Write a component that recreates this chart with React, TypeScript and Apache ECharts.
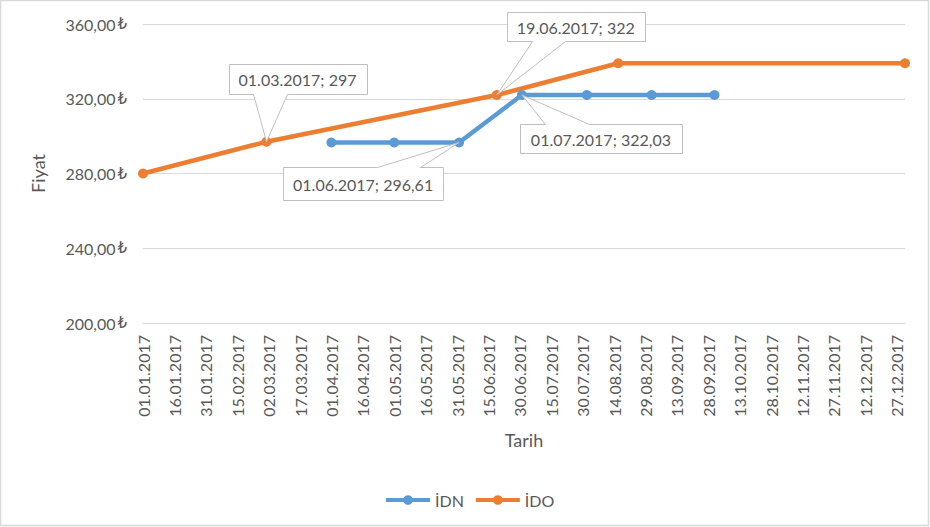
import React, { useEffect, useRef } from "react";
import * as echarts from "echarts";

// ---- data ----
const idnDates = ["01.04.2017", "01.05.2017", "01.06.2017", "01.07.2017", "01.08.2017", "01.09.2017", "01.10.2017"];
const idnValues = [296.61, 296.61, 296.61, 322.03, 322.03, 322.03, 322.03];
const idoDates = ["01.01.2017", "01.03.2017", "19.06.2017", "16.08.2017", "31.12.2017"];
const idoValues = [280, 297, 322, 339, 339];
const axisStart = "01.01.2017";
const axisEnd = "31.12.2017";
const tickDays = 15;
const yTicks = [200, 240, 280, 320, 360];
const seriesNames = ["İDN", "İDO"];

// callouts: which series / index is annotated
const callouts = [
  { series: 1, index: 1, box: [-38, 100, -78, -48], base: [-14, 20], side: "bottom" },
  { series: 0, index: 2, box: [-176, -16, 25, 58], base: [-82, -39], side: "top" },
  { series: 1, index: 2, box: [10, 148, -83, -54], base: [35, 68], side: "bottom" },
  { series: 0, index: 3, box: [-2, 160, 29, 58], base: [23, 67], side: "top" },
];

const BASE = Date.UTC(2017, 0, 1);
const DAY = 86400000;
function toDay(s: string) {
  const [d, m, y] = s.split(".").map(Number);
  return Math.round((Date.UTC(y, m - 1, d) - BASE) / DAY);
}
function pad(n: number) {
  return n < 10 ? "0" + n : "" + n;
}
function fromDay(n: number) {
  const dt = new Date(BASE + n * DAY);
  return pad(dt.getUTCDate()) + "." + pad(dt.getUTCMonth() + 1) + "." + dt.getUTCFullYear();
}
function fmtVal(v: number) {
  return String(v).replace(".", ",");
}

const FONT = "Lato, 'DejaVu Sans', sans-serif";
const TXT = "#595959";
const GRID = "#d9d9d9";
const BLUE = "#5B9BD5";
const ORANGE = "#ED7D31";

export default function App() {
  const ref = useRef<HTMLDivElement>(null);
  useEffect(() => {
    if (!ref.current) return;
    const chart = echarts.init(ref.current, null, { renderer: "svg" });
    const allDates = [idnDates, idoDates];
    const allValues = [idnValues, idoValues];
    const colors = [BLUE, ORANGE];
    chart.setOption({
      animation: false,
      textStyle: { fontFamily: FONT },
      grid: { left: 143, right: 25, top: 24, bottom: 204, containLabel: false },
      legend: {
        top: 487,
        left: 379,
        itemWidth: 44,
        itemHeight: 12,
        itemGap: 10,
        lineStyle: { width: 4 },
        textStyle: { color: TXT, fontSize: 16, fontFamily: FONT },
        data: seriesNames,
      },
      xAxis: {
        type: "value",
        min: toDay(axisStart),
        max: toDay(axisEnd),
        interval: tickDays,
        name: "Tarih",
        nameLocation: "middle",
        nameGap: 108,
        nameTextStyle: { color: TXT, fontSize: 18, fontFamily: FONT },
        axisLine: { show: true, lineStyle: { color: GRID, width: 1 } },
        axisTick: { show: false },
        splitLine: { show: false },
        axisLabel: {
          rotate: 90,
          margin: 12,
          color: TXT,
          fontSize: 16,
          fontFamily: FONT,
          showMaxLabel: false,
          formatter: (v: number) => fromDay(v),
        },
      },
      yAxis: {
        type: "value",
        min: yTicks[0],
        max: yTicks[yTicks.length - 1],
        interval: yTicks[1] - yTicks[0],
        name: "Fiyat",
        nameLocation: "middle",
        nameRotate: 90,
        nameGap: 96,
        nameTextStyle: { color: TXT, fontSize: 18, fontFamily: FONT },
        axisLine: { show: false },
        axisTick: { show: false },
        splitLine: { show: true, lineStyle: { color: GRID, width: 1 } },
        axisLabel: {
          margin: 16,
          color: TXT,
          fontSize: 16,
          fontFamily: FONT,
          formatter: (v: number) => v.toFixed(2).replace(".", ",") + "{c|₺}",
          rich: {
            c: { fontFamily: "'DejaVu Sans', sans-serif", fontSize: 15, color: TXT, padding: [0, 0, 0, 2] },
          },
        },
      },
      series: seriesNames.map((name, si) => ({
        name,
        type: "line",
        silent: true,
        symbol: "circle",
        symbolSize: 10,
        showSymbol: true,
        color: colors[si],
        itemStyle: { color: colors[si], borderWidth: 0 },
        lineStyle: { color: colors[si], width: 4.5 },
        emphasis: { disabled: true },
        data: allDates[si].map((d, i) => [toDay(d), allValues[si][i]]),
      })),
    });

    const graphics: any[] = [
      {
        type: "rect",
        shape: { x: 0.5, y: 0.5, width: 928, height: 525 },
        style: { fill: "none", stroke: GRID, lineWidth: 1.5 },
        silent: true,
      },
    ];
    callouts.forEach((c) => {
      const d = allDates[c.series][c.index];
      const v = allValues[c.series][c.index];
      const p = chart.convertToPixel({ xAxisIndex: 0, yAxisIndex: 0 }, [toDay(d), v]) as number[];
      const px = p[0];
      const py = p[1];
      const [l, r, t, b] = c.box;
      const [b1, b2] = c.base;
      const X = (o: number) => Math.round(px + o) + 0.5;
      const Y = (o: number) => Math.round(py + o) + 0.5;
      let pts: number[][];
      if (c.side === "bottom") {
        pts = [
          [X(l), Y(t)], [X(r), Y(t)], [X(r), Y(b)], [X(b2), Y(b)], [px, py], [X(b1), Y(b)], [X(l), Y(b)],
        ];
      } else {
        pts = [
          [X(l), Y(t)], [X(b1), Y(t)], [px, py], [X(b2), Y(t)], [X(r), Y(t)], [X(r), Y(b)], [X(l), Y(b)],
        ];
      }
      graphics.push({
        type: "polygon",
        z: 100,
        silent: true,
        shape: { points: pts },
        style: { fill: "#fff", stroke: "#bfbfbf", lineWidth: 1 },
      });
      graphics.push({
        type: "text",
        z: 101,
        silent: true,
        x: px + (l + r) / 2,
        y: py + (t + b) / 2 + 1,
        style: {
          text: d + "; " + fmtVal(v),
          fill: TXT,
          font: "16px " + FONT,
          textAlign: "center",
          textVerticalAlign: "middle",
          align: "center",
          verticalAlign: "middle",
        },
      });
    });
    chart.setOption({ graphic: graphics });

    return () => chart.dispose();
  }, []);
  return <div ref={ref} style={{ position: "absolute", left: 0, top: 0, width: 930, height: 527 }} />;
}
